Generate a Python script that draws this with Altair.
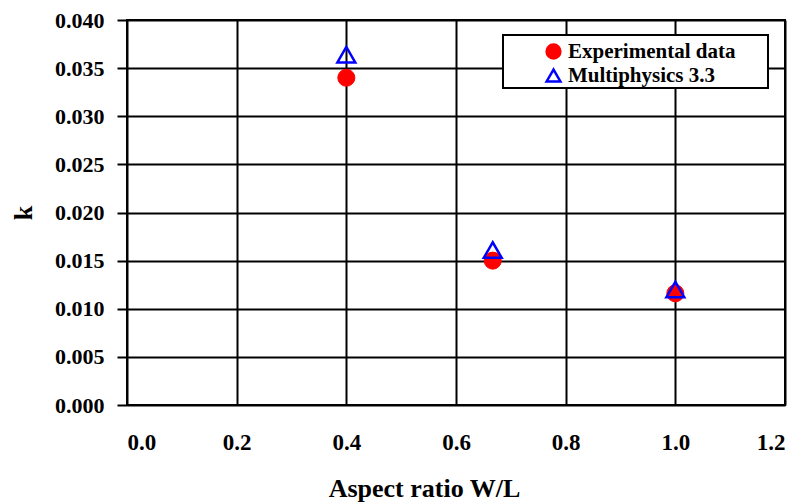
import altair as alt
import pandas as pd

series_names = ["Experimental data", "Multiphysics 3.3"]
x_exp = [0.4, 0.667, 1.0]
k_exp = [0.0340, 0.0150, 0.0116]
x_sim = [0.4, 0.667, 1.0]
k_sim = [0.0364, 0.0161, 0.0120]

rows = []
for x, k in zip(x_exp, k_exp):
    rows.append({"x": x, "k": k, "series": series_names[0]})
for x, k in zip(x_sim, k_sim):
    rows.append({"x": x, "k": k, "series": series_names[1]})
df = pd.DataFrame(rows)

font = "Liberation Serif"

x_enc = alt.X("x:Q", title="Aspect ratio W/L",
              scale=alt.Scale(domain=[0, 1.2], nice=False),
              axis=alt.Axis(values=[0, 0.2, 0.4, 0.6, 0.8, 1.0, 1.2], format=".1f",
                            ticks=False, labelPadding=26, titlePadding=21,
                            titleX=297, titleAlign="center"))
y_enc = alt.Y("k:Q", title="k",
              scale=alt.Scale(domain=[0, 0.04], nice=False),
              axis=alt.Axis(values=[i * 0.005 for i in range(9)], format=".3f",
                            tickSize=10, tickWidth=2, tickColor="black",
                            labelPadding=13, titlePadding=18))
shape_enc = alt.Shape("series:N", title=None,
                      scale=alt.Scale(domain=series_names, range=["circle", "triangle-up"]))
stroke_enc = alt.Stroke("series:N", title=None,
                        scale=alt.Scale(domain=series_names, range=["#ff0000", "#0000ff"]))
fill_enc = alt.Fill("series:N", title=None,
                    scale=alt.Scale(domain=series_names, range=["#ff0000", "transparent"]))

base = alt.Chart(df).encode(x=x_enc, y=y_enc, shape=shape_enc, stroke=stroke_enc, fill=fill_enc)

circles = base.transform_filter(alt.datum.series == series_names[0]).mark_point(
    filled=False, strokeWidth=1, opacity=1, size=290)
triangles = base.transform_filter(alt.datum.series == series_names[1]).mark_point(
    filled=False, strokeWidth=2.5, opacity=1, size=320)

box = alt.Chart(pd.DataFrame({"a": [0]})).mark_rect(
    fill="white", stroke="black", strokeWidth=2
).encode(x=alt.value(376), x2=alt.value(641), y=alt.value(15), y2=alt.value(68))

chart = alt.layer(box, circles, triangles).properties(
    width=658, height=385,
    autosize=alt.AutoSizeParams(type="none"),
    padding={"left": 119, "top": 12, "right": 10, "bottom": 98},
).configure_view(
    stroke="black", strokeWidth=2
).configure_axis(
    grid=True, gridColor="black", gridWidth=2, gridOpacity=1,
    domain=False,
    labelFont=font, labelFontSize=23, labelFontWeight="bold", labelColor="black",
    titleFont=font, titleFontSize=26, titleFontWeight="bold", titleColor="black",
).configure_axisY(
    labelFontSize=22,
).configure_legend(
    orient="none", legendX=416, legendY=21,
    padding=0, labelFont=font, labelFontSize=21, labelFontWeight="bold",
    labelColor="black", symbolSize=190, symbolStrokeWidth=2.5,
    rowPadding=0, labelLimit=300, labelOffset=4,
)

chart.save("out.html", embed_options={"renderer": "svg", "actions": False})
